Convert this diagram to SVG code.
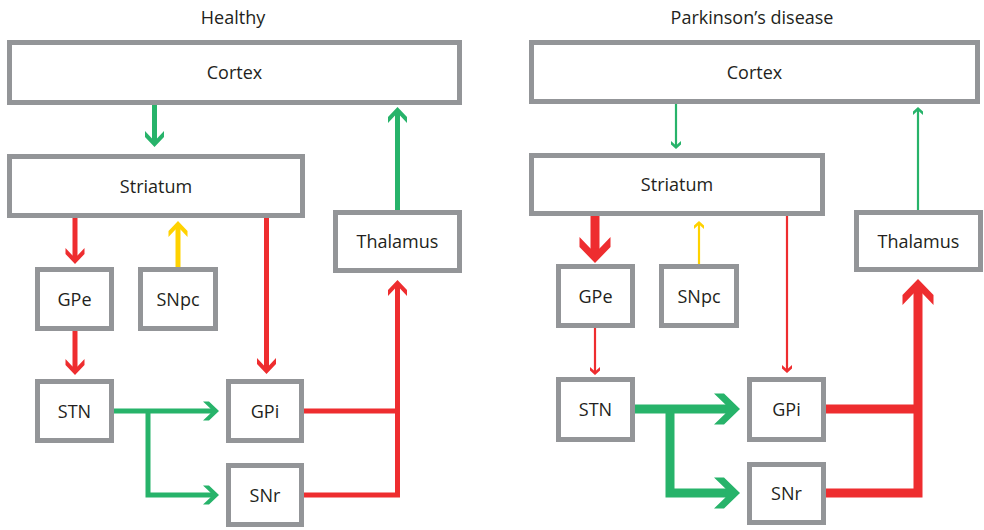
<svg xmlns="http://www.w3.org/2000/svg" xmlns:xlink="http://www.w3.org/1999/xlink" width="984" height="530" viewBox="0 0 984 530">
<style>
.box{fill:#ffffff;stroke:#939598;stroke-width:5}
.lbl{font-family:"Open Sans","Liberation Sans",sans-serif;font-size:18px;fill:#231f20;text-anchor:middle}
.g{stroke:#27b36a;fill:none}
.r{stroke:#ee2d2f;fill:none}
.y{stroke:#ffd200;fill:none}
.gf{fill:#27b36a}
.rf{fill:#ee2d2f}
.yf{fill:#ffd200}
.m{stroke-width:5}
.t{stroke-width:2.2}
.k{stroke-width:9}
</style>
<defs>
<polygon id="hm" points="0,0 -10,-9.5 -16,-9.5 -8.6,-2.5 -8.6,2.5 -16,9.5 -10,9.5"/>
<polygon id="ht" points="0,0 -4.5,-5 -8,-5 -4.4,-1.1 -4.4,1.1 -8,5 -4.5,5"/>
<polygon id="hk" points="0,0 -16,-15.5 -26,-15.5 -14.6,-4.5 -14.6,4.5 -26,15.5 -16,15.5"/>
</defs>
<rect width="984" height="530" fill="#ffffff"/>
<text class="lbl" x="233" y="24">Healthy</text>
<text class="lbl" x="752" y="24">Parkinson’s disease</text>

<g id="connectors">
<!-- Healthy -->
<line class="g m" x1="154.5" y1="105" x2="154.5" y2="140"/>
<use href="#hm" class="gf" transform="translate(154.5,147) rotate(90)"/>
<line class="g m" x1="397.5" y1="210" x2="397.5" y2="114"/>
<use href="#hm" class="gf" transform="translate(397.5,107) rotate(-90)"/>
<line class="r m" x1="75" y1="218" x2="75" y2="257"/>
<use href="#hm" class="rf" transform="translate(75,264) rotate(90)"/>
<line class="y m" x1="178" y1="267" x2="178" y2="228"/>
<use href="#hm" class="yf" transform="translate(178,221) rotate(-90)"/>
<line class="r m" x1="266.5" y1="218" x2="266.5" y2="367"/>
<use href="#hm" class="rf" transform="translate(266.5,374) rotate(90)"/>
<line class="r m" x1="75" y1="331" x2="75" y2="368"/>
<use href="#hm" class="rf" transform="translate(75,375) rotate(90)"/>
<line class="g m" x1="114" y1="411" x2="212" y2="411"/>
<use href="#hm" class="gf" transform="translate(219,411)"/>
<path class="g m" d="M148,411 V495 H212"/>
<use href="#hm" class="gf" transform="translate(219,495)"/>
<line class="r m" x1="304" y1="411" x2="397.5" y2="411"/>
<path class="r m" d="M304,495 H397.5 V287"/>
<use href="#hm" class="rf" transform="translate(397.5,280) rotate(-90)"/>

<!-- Parkinson's -->
<line class="g t" x1="676" y1="104" x2="676" y2="146"/>
<use href="#ht" class="gf" transform="translate(676,149) rotate(90)"/>
<line class="g t" x1="918" y1="210" x2="918" y2="110"/>
<use href="#ht" class="gf" transform="translate(918,107) rotate(-90)"/>
<line class="r k" x1="595" y1="216" x2="595" y2="250"/>
<use href="#hk" class="rf" transform="translate(595,263) rotate(90)"/>
<line class="y t" x1="699" y1="264" x2="699" y2="224"/>
<use href="#ht" class="yf" transform="translate(699,221) rotate(-90)"/>
<line class="r t" x1="787" y1="216" x2="787" y2="370"/>
<use href="#ht" class="rf" transform="translate(787,373) rotate(90)"/>
<line class="r t" x1="595" y1="328" x2="595" y2="372"/>
<use href="#ht" class="rf" transform="translate(595,375) rotate(90)"/>
<line class="g k" x1="635" y1="409" x2="727" y2="409"/>
<use href="#hk" class="gf" transform="translate(740,409)"/>
<path class="g k" d="M670,409 V493 H727"/>
<use href="#hk" class="gf" transform="translate(740,493)"/>
<line class="r k" x1="826" y1="409" x2="918" y2="409"/>
<path class="r k" d="M826,493 H918 V292"/>
<use href="#hk" class="rf" transform="translate(918,279) rotate(-90)"/>
</g>

<!-- Healthy nodes -->
<g id="h-cortex"><rect class="box" x="9.5" y="42.5" width="450" height="60"/><text class="lbl" x="234.5" y="79">Cortex</text></g>
<g id="h-striatum"><rect class="box" x="9.5" y="156.5" width="293" height="59"/><text class="lbl" x="156" y="192.5">Striatum</text></g>
<g id="h-thalamus"><rect class="box" x="335.5" y="212.5" width="124" height="58"/><text class="lbl" x="397.5" y="248">Thalamus</text></g>
<g id="h-gpe"><rect class="box" x="37.5" y="269.5" width="74" height="59"/><text class="lbl" x="74.5" y="305.5">GPe</text></g>
<g id="h-snpc"><rect class="box" x="140.5" y="269.5" width="75" height="59"/><text class="lbl" x="178" y="305.5">SNpc</text></g>
<g id="h-stn"><rect class="box" x="37.5" y="381.5" width="74" height="59"/><text class="lbl" x="74.5" y="417.5">STN</text></g>
<g id="h-gpi"><rect class="box" x="228.5" y="381.5" width="73" height="59"/><text class="lbl" x="265" y="417.5">GPi</text></g>
<g id="h-snr"><rect class="box" x="228.5" y="465.5" width="73" height="59"/><text class="lbl" x="265" y="501.5">SNr</text></g>

<!-- Parkinson's nodes -->
<g id="p-cortex"><rect class="box" x="531.5" y="42.5" width="446" height="59"/><text class="lbl" x="754.5" y="78.5">Cortex</text></g>
<g id="p-striatum"><rect class="box" x="531.5" y="155.5" width="291" height="58"/><text class="lbl" x="677" y="191">Striatum</text></g>
<g id="p-thalamus"><rect class="box" x="856.5" y="212.5" width="124" height="57"/><text class="lbl" x="918.5" y="247.5">Thalamus</text></g>
<g id="p-gpe"><rect class="box" x="558.5" y="266.5" width="74" height="59"/><text class="lbl" x="595.5" y="302.5">GPe</text></g>
<g id="p-snpc"><rect class="box" x="661.5" y="266.5" width="75" height="59"/><text class="lbl" x="699" y="302.5">SNpc</text></g>
<g id="p-stn"><rect class="box" x="558.5" y="379.5" width="74" height="60"/><text class="lbl" x="595.5" y="416">STN</text></g>
<g id="p-gpi"><rect class="box" x="749.5" y="379.5" width="74" height="60"/><text class="lbl" x="786.5" y="416">GPi</text></g>
<g id="p-snr"><rect class="box" x="749.5" y="464.5" width="74" height="58"/><text class="lbl" x="786.5" y="500">SNr</text></g>
</svg>
